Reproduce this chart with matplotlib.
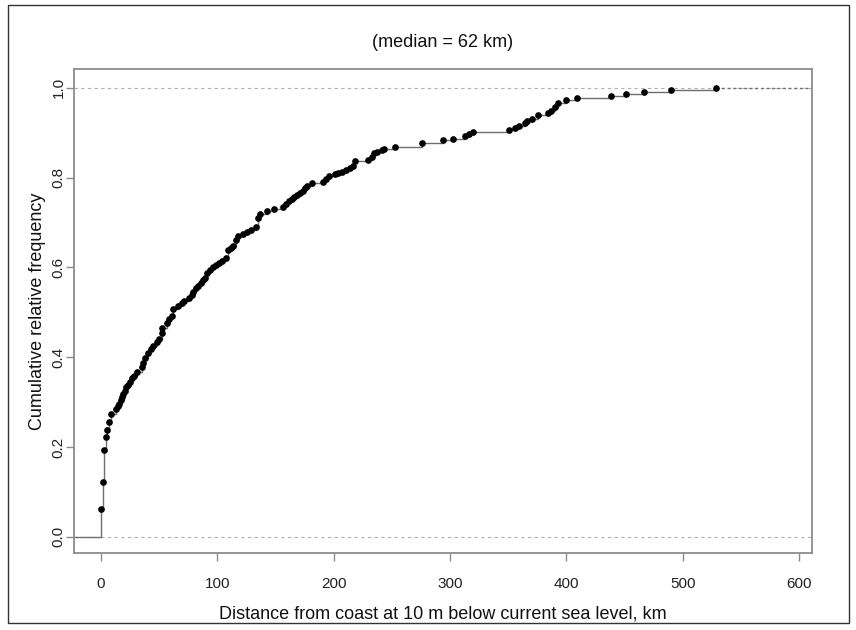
import matplotlib
matplotlib.use("Agg")
from matplotlib import pyplot as plt
from matplotlib.patches import Rectangle

plt.rcParams['font.family'] = ['Liberation Sans', 'DejaVu Sans']

# distance (km) at each jump of the ECDF and the cumulative relative frequency reached there
dist_km = [0.5, 2.0, 2.9, 4.3, 5.2, 6.9, 8.9, 12.9, 14.6, 16.0, 17.2, 18.0, 19.5, 20.6,
           22.1, 23.8, 25.5, 26.4, 28.4, 31.2, 35.0, 36.4, 38.4, 40.7, 43.3, 45.0, 47.9,
           49.9, 52.2, 53.0, 56.5, 58.7, 61.0, 62.2, 66.5, 69.4, 71.4, 75.9, 78.0, 79.4,
           81.7, 83.1, 85.7, 88.0, 89.4, 91.4, 93.7, 96.0, 98.9, 101.7, 103.8, 108.0,
           109.5, 111.5, 113.8, 116.1, 118.1, 122.4, 125.3, 128.7, 133.3, 135.3, 136.7,
           143.0, 149.2, 156.7, 159.5, 161.9, 164.0, 166.0, 168.3, 171.1, 173.4, 175.4,
           177.4, 181.1, 191.2, 193.5, 196.4, 201.2, 204.0, 207.0, 210.7, 214.1, 216.4,
           218.4, 229.8, 232.7, 234.7, 237.6, 241.4, 243.3, 252.5, 275.7, 294.3, 302.3,
           313.0, 316.0, 319.6, 350.6, 356.0, 358.9, 364.8, 366.3, 370.5, 376.0, 384.3,
           387.0, 389.8, 393.0, 399.8, 408.7, 438.0, 451.0, 467.0, 489.5, 528.5]
cum_freq = [0.062, 0.122, 0.194, 0.222, 0.238, 0.255, 0.273, 0.284, 0.291, 0.296, 0.304,
            0.311, 0.318, 0.325, 0.333, 0.339, 0.345, 0.353, 0.359, 0.368, 0.379, 0.387,
            0.398, 0.409, 0.419, 0.424, 0.433, 0.440, 0.454, 0.465, 0.476, 0.485, 0.492,
            0.508, 0.514, 0.520, 0.526, 0.532, 0.539, 0.546, 0.554, 0.559, 0.565, 0.571,
            0.577, 0.587, 0.595, 0.601, 0.606, 0.611, 0.615, 0.621, 0.638, 0.643, 0.648,
            0.661, 0.669, 0.675, 0.679, 0.684, 0.689, 0.710, 0.719, 0.725, 0.731, 0.735,
            0.742, 0.747, 0.752, 0.757, 0.762, 0.766, 0.771, 0.777, 0.782, 0.789, 0.791,
            0.796, 0.804, 0.808, 0.811, 0.813, 0.816, 0.821, 0.826, 0.836, 0.840, 0.847,
            0.855, 0.858, 0.862, 0.864, 0.868, 0.878, 0.883, 0.887, 0.893, 0.898, 0.902,
            0.907, 0.911, 0.915, 0.921, 0.926, 0.930, 0.940, 0.945, 0.949, 0.958, 0.967,
            0.972, 0.978, 0.982, 0.986, 0.991, 0.996, 1.0]
x_ticks = [0, 100, 200, 300, 400, 500, 600]
y_ticks = [0.0, 0.2, 0.4, 0.6, 0.8, 1.0]
median_km = 62

fig = plt.figure(figsize=(8.56, 6.30), dpi=100)
ax = fig.add_axes([74/856, 1 - 553/630, 738/856, 484/630])
xlim = (-23, 611)
ylim = (-0.036, 1.042)

# reference lines at 0 and 1
for h in (0, 1):
    ax.axhline(h, color="#b0b0b0", lw=0.8, ls=(0, (3, 3)), zorder=1)

# step function
xs = [xlim[0]] + dist_km
ys = [0.0] + cum_freq
ax.step(xs, ys, where="post", color="#6e6e6e", lw=1.0, zorder=2)
ax.plot([dist_km[-1], xlim[1]], [1, 1], color="#6e6e6e", lw=1.0, ls=(0, (2, 2)), zorder=2)
ax.plot(dist_km, cum_freq, "o", color="black", ms=3.8, zorder=3)

ax.set_xlim(*xlim)
ax.set_ylim(*ylim)
ax.set_xticks(x_ticks)
ax.set_yticks(y_ticks)
ax.set_yticklabels(["%.1f" % v for v in y_ticks], rotation=90, va="center")
for s in ax.spines.values():
    s.set_color("#8c8c8c")
    s.set_linewidth(1.3)
ax.tick_params(direction="out", length=6, width=1.0, color="#8c8c8c",
               labelsize=11, labelcolor="#222222")
ax.tick_params(axis="x", pad=11)
ax.tick_params(axis="y", pad=0)

ax.set_xlabel("Distance from coast at 10 m below current sea level, km",
              fontsize=13, color="#111111", labelpad=11)
ax.set_ylabel("Cumulative relative frequency", fontsize=13, color="#111111", labelpad=4)
ax.set_title("(median = %d km)" % median_km, fontsize=13, color="#111111", pad=16)

# outer frame
fig.patches.append(Rectangle((8/856, 1 - 623/630), 841/856, 618/630,
                             transform=fig.transFigure, fill=False,
                             edgecolor="#333333", lw=1.0))

fig.savefig("out.png", dpi=100)
